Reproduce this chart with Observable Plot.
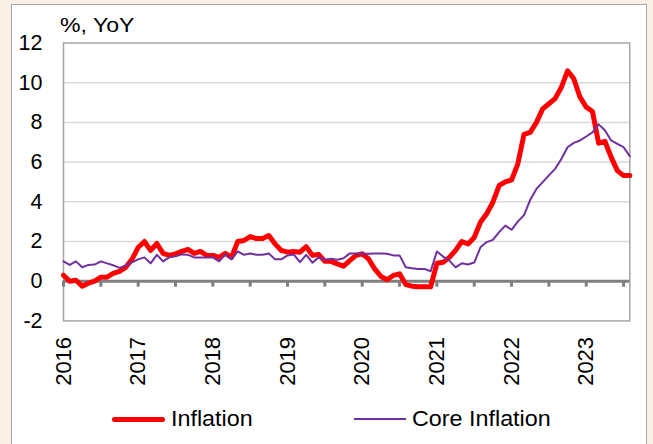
<!DOCTYPE html>
<html>
<head>
<meta charset="utf-8">
<script src="https://cdn.jsdelivr.net/npm/d3@7"></script>
<script src="https://cdn.jsdelivr.net/npm/@observablehq/plot@0.6"></script>
<style>
  html, body { margin: 0; padding: 0; }
  body { width: 653px; height: 444px; overflow: hidden; background: #faf0e6; position: relative;
         font-family: "Liberation Sans", Arial, sans-serif; color: #000; }
  #box { position: absolute; left: 11px; top: 4px; width: 634px; height: 460px;
         border: 1.5px solid #a6a6a6; background: #fff; }
  #chart { position: absolute; left: 0; top: 0; }
  #title { position: absolute; left: 60px; top: 14px; font-size: 21px; line-height: 21px; white-space: nowrap;
           transform: scaleX(1.1); transform-origin: 0 0; }
  .sw { position: absolute; }
  .lg { position: absolute; font-size: 22px; line-height: 22px; white-space: nowrap; top: 408px;
        transform: scaleX(1.06); transform-origin: 0 0; }
</style>
</head>
<body>
<div id="box"></div>
<div id="chart"></div>
<div id="title">%, YoY</div>
<div class="sw" style="left:112px;top:416.5px;width:53px;height:5px;background:#ff0000;border-radius:3px"></div>
<div class="lg" style="left:171px">Inflation</div>
<div class="sw" style="left:354px;top:418px;width:52px;height:2px;background:#7030a0"></div>
<div class="lg" style="left:412px">Core Inflation</div>
<script>
// Monthly data, Jan 2016 – Aug 2023
const firstYear = 2016;
const yearLabels = ["2016", "2017", "2018", "2019", "2020", "2021", "2022", "2023"];
const yTicks = [-2, 0, 2, 4, 6, 8, 10, 12];
const gridValues = [2, 4, 6, 8, 10];

const inflation = [
  0.3, 0.0, 0.05, -0.25, -0.1, 0.0, 0.2, 0.2, 0.4, 0.5, 0.7, 1.1,        // 2016
  1.7, 2.0, 1.55, 1.9, 1.4, 1.3, 1.38, 1.5, 1.6, 1.4, 1.5, 1.3,          // 2017
  1.3, 1.2, 1.4, 1.2, 2.0, 2.05, 2.25, 2.15, 2.15, 2.3, 1.88, 1.55,      // 2018
  1.46, 1.5, 1.46, 1.74, 1.3, 1.35, 1.0, 1.0, 0.87, 0.76, 1.04, 1.3,     // 2019
  1.38, 1.13, 0.62, 0.24, 0.07, 0.29, 0.37, -0.17, -0.25, -0.28, -0.28, -0.28, // 2020
  0.9, 0.95, 1.2, 1.55, 2.0, 1.88, 2.2, 2.97, 3.4, 3.98, 4.82, 5.0,      // 2021
  5.1, 5.9, 7.4, 7.5, 8.0, 8.68, 8.94, 9.2, 9.77, 10.6, 10.2, 9.27,      // 2022
  8.77, 8.55, 6.95, 7.05, 6.25, 5.57, 5.32, 5.32                         // 2023
];
const coreInflation = [
  1.0, 0.82, 1.0, 0.7, 0.82, 0.84, 1.0, 0.9, 0.8, 0.67, 0.8, 0.95,       // 2016
  1.1, 1.2, 0.9, 1.33, 1.0, 1.2, 1.25, 1.35, 1.33, 1.2, 1.2, 1.2,        // 2017
  1.2, 1.0, 1.35, 1.1, 1.5, 1.33, 1.4, 1.33, 1.33, 1.4, 1.1, 1.1,        // 2018
  1.3, 1.35, 0.96, 1.33, 0.93, 1.2, 1.08, 1.13, 1.08, 1.16, 1.4, 1.4,    // 2019
  1.38, 1.38, 1.4, 1.4, 1.38, 1.3, 1.3, 0.7, 0.65, 0.62, 0.62, 0.5,      // 2020
  1.5, 1.24, 1.04, 0.7, 0.9, 0.84, 0.94, 1.71, 1.97, 2.08, 2.47, 2.8,    // 2021
  2.59, 3.0, 3.33, 4.1, 4.65, 4.99, 5.33, 5.66, 6.16, 6.75, 6.97, 7.09,  // 2022
  7.29, 7.5, 7.9, 7.6, 7.09, 6.92, 6.75, 6.3                             // 2023
];

const data = inflation.map((v, i) => ({ month: i, inflation: v, core: coreInflation[i] }));
const lastMonth = inflation.length - 1;
const yearTicks = yearLabels.map((_, k) => k * 12);
const halfYearTicks = d3.range(0, lastMonth + 1, 6);

const chart = Plot.plot({
  width: 653,
  height: 400,
  marginLeft: 63,
  marginRight: 23.7,
  marginTop: 42.5,
  marginBottom: 79.6,
  x: { type: "linear", domain: [0, lastMonth] },
  y: { domain: [-2, 12] },
  style: { fontFamily: "'Liberation Sans', Arial, sans-serif", fontSize: "21px", color: "#000", background: "transparent", overflow: "visible" },
  marks: [
    Plot.ruleY(gridValues, { stroke: "#d9d9d9", strokeWidth: 1.5 }),
    Plot.frame({ stroke: "#a6a6a6", strokeWidth: 1.5 }),
    Plot.axisY({ ticks: yTicks, tickSize: 0, tickPadding: 21, label: null, tickFormat: d => String(d), fontSize: 21.5 }),
    Plot.axisX({ ticks: yearTicks, tickFormat: m => yearLabels[m / 12], tickRotate: -90, tickSize: 0, tickPadding: 16, label: null, fontSize: 22 }),
    Plot.ruleY([0], { stroke: "#808080", strokeWidth: 3 }),
    Plot.ruleX(halfYearTicks, { x: d => d, y1: 0, y2: 0, insetBottom: -6, stroke: "#808080", strokeWidth: 3 }),
    Plot.line(data, { x: "month", y: "inflation", stroke: "#ff0000", strokeWidth: 5, strokeLinejoin: "round", strokeLinecap: "round" }),
    Plot.line(data, { x: "month", y: "core", stroke: "#7030a0", strokeWidth: 2 })
  ]
});
document.getElementById("chart").appendChild(chart);
</script>
</body>
</html>
